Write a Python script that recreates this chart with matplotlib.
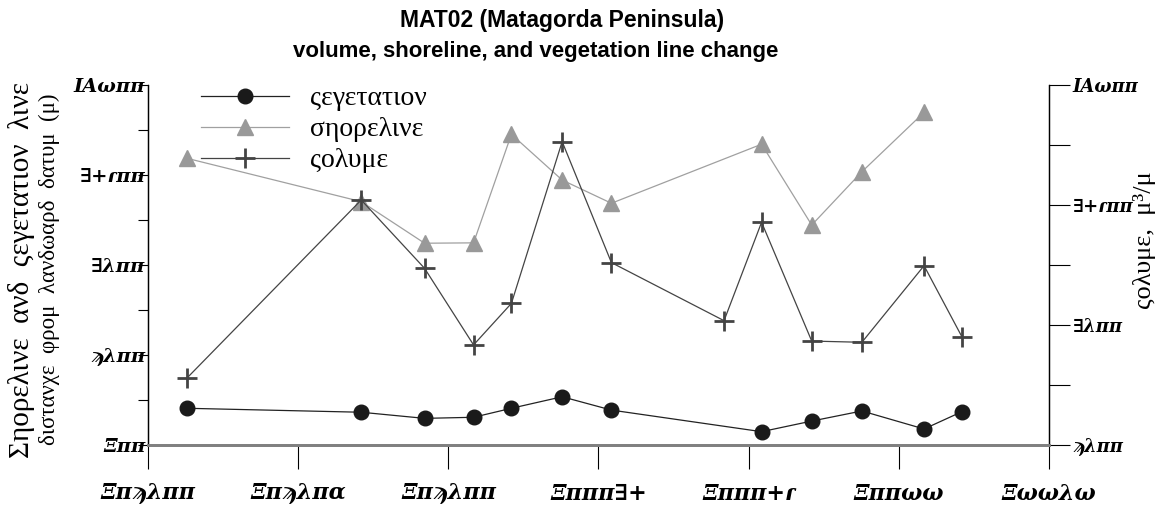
import matplotlib
matplotlib.use("Agg")
import matplotlib.pyplot as plt
from matplotlib.lines import Line2D
from matplotlib.ticker import FixedLocator, FixedFormatter, MultipleLocator

# survey dates (decimal years)
veg_years = [1986.29, 1992.10, 1994.21, 1995.84, 1997.10, 1998.79, 2000.43,
             2005.43, 2007.10, 2008.77, 2010.84, 2012.10]
vegetation = [20.4, 18.2, 14.8, 15.4, 20.4, 26.8, 19.4, 7.4, 13.3, 18.9, 8.9, 18.5]

shore_years = [1986.29, 1992.10, 1994.21, 1995.84, 1997.10, 1998.79, 2000.43,
               2005.43, 2007.10, 2008.77, 2010.84]
shoreline = [159.3, 135.2, 112.1, 112.3, 172.6, 147.2, 134.3, 167.1, 122.2, 151.8, 184.8]

vol_years = [1986.29, 1992.10, 1994.21, 1995.84, 1997.10, 1998.79, 2000.43,
             2004.18, 2005.43, 2007.10, 2008.77, 2010.84, 2012.10]
volume = [77.8, 152.1, 123.6, 91.7, 109.0, 176.4, 126.0, 101.8, 142.8, 93.3, 92.8, 124.7, 95.1]

# tick labels as they appear (symbol-font rendering)
x_ticks = [1985, 1990, 1995, 2000, 2005, 2010, 2015]
x_ticklabels = ["Ξπϡλππ", "Ξπϡλπα", "Ξπϡλππ", "Ξπππ∃+", "Ξπππ+ɾ", "Ξππωω", "Ξωωλω"]
left_ticks = [0, 50, 100, 150, 200]
left_ticklabels = ["Ξππ", "ϡλππ", "∃λππ", "∃+ɾππ", "ΙΑωππ"]
right_ticks = [50, 100, 150, 200]
right_ticklabels = ["ϡλππ", "∃λππ", "∃+ɾππ", "ΙΑωππ"]

veg_label = "ςεγετατιον"
shore_label = "σηορελινε"
vol_label = "ςολυμε"

fig = plt.figure(figsize=(11.6, 5.08), dpi=100)
ax = fig.add_axes([148 / 1160, 63 / 508, 901 / 1160, 360 / 508])
ax2 = ax.twinx()

ax.plot(veg_years, vegetation, color="#222222", lw=0.9, marker="o", ms=10.5,
        mfc="#1a1a1a", mec="#1a1a1a", zorder=3)
ax.plot(shore_years, shoreline, color="#a0a0a0", lw=0.9, marker="^", ms=11,
        mfc="#999999", mec="#999999", zorder=2)
ax2.plot(vol_years, volume, color="#444444", lw=0.9, marker="+", ms=14,
         mew=2, mec="#444444", zorder=3)

ax.set_xlim(1985, 2015)
ax.set_ylim(0, 200)
ax2.set_ylim(50, 200)

ax.xaxis.set_major_locator(FixedLocator(x_ticks))
ax.xaxis.set_major_formatter(FixedFormatter(x_ticklabels))
ax.yaxis.set_major_locator(FixedLocator(left_ticks))
ax.yaxis.set_major_formatter(FixedFormatter(left_ticklabels))
ax.yaxis.set_minor_locator(MultipleLocator(25))
ax2.yaxis.set_major_locator(FixedLocator(right_ticks))
ax2.yaxis.set_major_formatter(FixedFormatter(right_ticklabels))
ax2.yaxis.set_minor_locator(MultipleLocator(25))

for lab in ax.get_xticklabels() + ax.get_yticklabels() + ax2.get_yticklabels():
    lab.set_fontfamily("DejaVu Serif")
    lab.set_fontstyle("italic")
    lab.set_fontweight("bold")
    lab.set_fontsize(13)
for lab in ax.get_xticklabels():
    lab.set_fontsize(16)
for lab in ax.get_yticklabels():
    lab.set_fontsize(14)

ax.tick_params(axis="x", direction="out", length=17, width=0.8, pad=10)
ax.tick_params(axis="y", which="both", direction="out", length=7, width=0.8, pad=-5)
ax2.tick_params(axis="y", which="both", direction="out", length=15, width=0.8, pad=2)

for a in (ax, ax2):
    a.spines["top"].set_visible(False)
    a.spines["left"].set_linewidth(0.9)
    a.spines["right"].set_linewidth(0.9)
    a.spines["bottom"].set_color("#808080")
    a.spines["bottom"].set_linewidth(2)

serif = ["Liberation Serif", "DejaVu Serif"]
fig.text(22 / 1160, 1 - 270 / 508, "Σηορελινε  ανδ  ςεγετατιον  λινε", rotation=90,
         ha="center", va="center", fontsize=21, family=serif)
fig.text(49 / 1160, 1 - 269 / 508, "διστανχε  φρομ  λανδωαρδ  δατυμ  (μ)", rotation=90,
         ha="center", va="center", fontsize=16.5, family=serif)
fig.text(1145 / 1160, 1 - 240 / 508, "ςολυμε,  μ³/μ", rotation=90,
         ha="center", va="center", fontsize=19, family=serif)

fig.text(562 / 1160, 1 - 21 / 508, "MAT02 (Matagorda Peninsula)", ha="center",
         va="center", fontsize=16.5, fontweight="bold", family="Liberation Sans")
fig.text(536 / 1160, 1 - 52 / 508, "volume, shoreline, and vegetation line change",
         ha="center", va="center", fontsize=16, fontweight="bold", family="Liberation Sans")

handles = [
    Line2D([], [], color="#222222", lw=0.9, marker="o", ms=10.5, mfc="#1a1a1a", mec="#1a1a1a"),
    Line2D([], [], color="#a0a0a0", lw=0.9, marker="^", ms=11, mfc="#999999", mec="#999999"),
    Line2D([], [], color="#444444", lw=0.9, marker="+", ms=14, mew=2, mec="#444444"),
]
fig.legend(handles, [veg_label, shore_label, vol_label], loc="upper left",
           bbox_to_anchor=(201 / 1160, 1 - 86 / 508), frameon=False,
           prop={"family": serif, "size": 20}, handlelength=3.15,
           handletextpad=0.78, labelspacing=0.2, borderpad=0, borderaxespad=0)

fig.savefig("out.png", dpi=100)
